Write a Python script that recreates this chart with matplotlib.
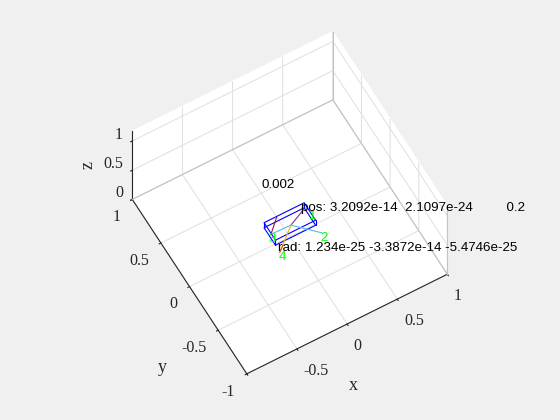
import numpy as np
import matplotlib
matplotlib.use('Agg')
import matplotlib.pyplot as plt

plt.rcParams['font.family'] = ['Liberation Serif', 'DejaVu Serif']

# body box half sizes and centre
box_center = [0.0, 0.0, 0.22]
box_half = [0.2, 0.1, 0.043]

# coloured rods, all in one plane
rod_starts = [[0.148, 0.05], [-0.177, -0.014], [0.0, -0.02], [-0.071, 0.108], [0.0, -0.02], [-0.16, -0.16]]
rod_ends = [[0.0, -0.02], [0.0, -0.02], [0.192, -0.217], [-0.182, 0.0], [-0.217, -0.206], [-0.217, -0.206]]
rod_colors = ['#7e2f8e', '#4dbeee', '#4dbeee', '#a2142f', '#edb120', '#d95319']
rod_z = 0.23

# green numbers next to the rod ends
num_labels = ['1', '2', '3', '4']
num_x = [0.19, 0.168, -0.227, -0.239]
num_y = [0.002, -0.238, -0.031, -0.228]
num_z = 0.2

ticks = [-1, -0.5, 0, 0.5, 1]
xtick_labels = ['', '-0.5', '0', '0.5', '1']
ytick_labels = ['-1', '-0.5', '0', '0.5', '1']
ztick_vals = [0, 0.5, 1]
ztick_labels = ['0', '0.5', '1']
z_top = 1.166


def px(x, y):
    return x / 560, 1 - y / 420


fig = plt.figure(figsize=(5.6, 4.2), dpi=100, facecolor='#f0f0f0')
ax = fig.add_axes([9.25 / 560, 5.4 / 420, 550 / 560, 412.5 / 420], projection='3d', proj_type='ortho', facecolor='none')
ax.view_init(elev=60.4, azim=-119.73)
ax.set_box_aspect((2, 2, 1.194), zoom=0.8344)
ax.set_xlim(-1, 1, view_margin=0)
ax.set_ylim(-1, 1, view_margin=0)
ax.set_zlim(0, z_top, view_margin=0)
ax.set_xticks(ticks)
ax.set_yticks(ticks)
ax.set_zticks(ztick_vals)
ax.set_xticklabels(xtick_labels, ha='left')
ax.set_yticklabels(ytick_labels, ha='right')
ax.set_zticklabels(ztick_labels, ha='right', va='baseline')
for a in (ax.xaxis, ax.yaxis, ax.zaxis):
    a.set_pane_color((1, 1, 1, 1))
    a.pane.set_edgecolor((1, 1, 1, 0))
    a._axinfo['grid'].update(color='#dfdfdf', linewidth=0.7)
    a.line.set_color('#262626')
    a.line.set_linewidth(0.8)
    a._axinfo['tick'].update(color='#262626', outward_factor=0.0, inward_factor=0.1)
    a.offsetText.set_visible(False)
    a.label.set_visible(False)
ax.tick_params(labelsize=11.5, colors='#262626', pad=1)
ax.tick_params(axis='z', pad=-3.5)

# box edges of the walls
edge_x = [-1, 1, 1]
edge_y = [1, 1, -1]
ax.plot(edge_x, edge_y, [0, 0, 0], color='#c4c4c4', lw=0.8)
ax.plot([1, 1], [1, 1], [0, z_top], color='#c4c4c4', lw=0.8)
ax.plot([1, 1], [-1, -1], [0, z_top], color='#c4c4c4', lw=0.8)

cx, cy, cz = box_center
hx, hy, hz = box_half
for sz in (-1, 1):
    xs = [cx - hx, cx + hx, cx + hx, cx - hx, cx - hx]
    ys = [cy - hy, cy - hy, cy + hy, cy + hy, cy - hy]
    ax.plot(xs, ys, [cz + sz * hz] * 5, color='#0000ff', lw=0.8)
for sx in (-1, 1):
    for sy in (-1, 1):
        ax.plot([cx + sx * hx] * 2, [cy + sy * hy] * 2, [cz - hz, cz + hz], color='#0000ff', lw=0.8)
for s, e, c in zip(rod_starts, rod_ends, rod_colors):
    ax.plot([s[0], e[0]], [s[1], e[1]], [rod_z, rod_z], color=c, lw=0.8)

for lab, nx, ny in zip(num_labels, num_x, num_y):
    ax.text(nx, ny, num_z, lab, color='#00ff00', family='Liberation Sans', fontsize=9.6, va='center', ha='left')

fx, fy = px(261, 185)
ax.text2D(fx, fy, '0.002', transform=fig.transFigure, family='Liberation Sans', fontsize=9.6, va='center')
fx, fy = px(301, 208)
ax.text2D(fx, fy, 'pos: 3.2092e-14  2.1097e-24         0.2', transform=fig.transFigure, family='Liberation Sans', fontsize=9.6, va='center')
fx, fy = px(278, 248)
ax.text2D(fx, fy, 'rad: 1.234e-25 -3.3872e-14 -5.4746e-25', transform=fig.transFigure, family='Liberation Sans', fontsize=9.6, va='center')

# axis names sit off-centre in the reference, so they are placed by hand
fx, fy = px(353, 386)
ax.text2D(fx, fy, 'x', transform=fig.transFigure, fontsize=13, color='#262626', ha='center', va='center')
fx, fy = px(162, 368)
ax.text2D(fx, fy, 'y', transform=fig.transFigure, fontsize=13, color='#262626', ha='center', va='center')
fx, fy = px(88, 165)
ax.text2D(fx, fy, 'z', transform=fig.transFigure, fontsize=13, color='#262626', ha='center', va='center', rotation=90)

fig.savefig('out.png', dpi=100, facecolor=fig.get_facecolor())
